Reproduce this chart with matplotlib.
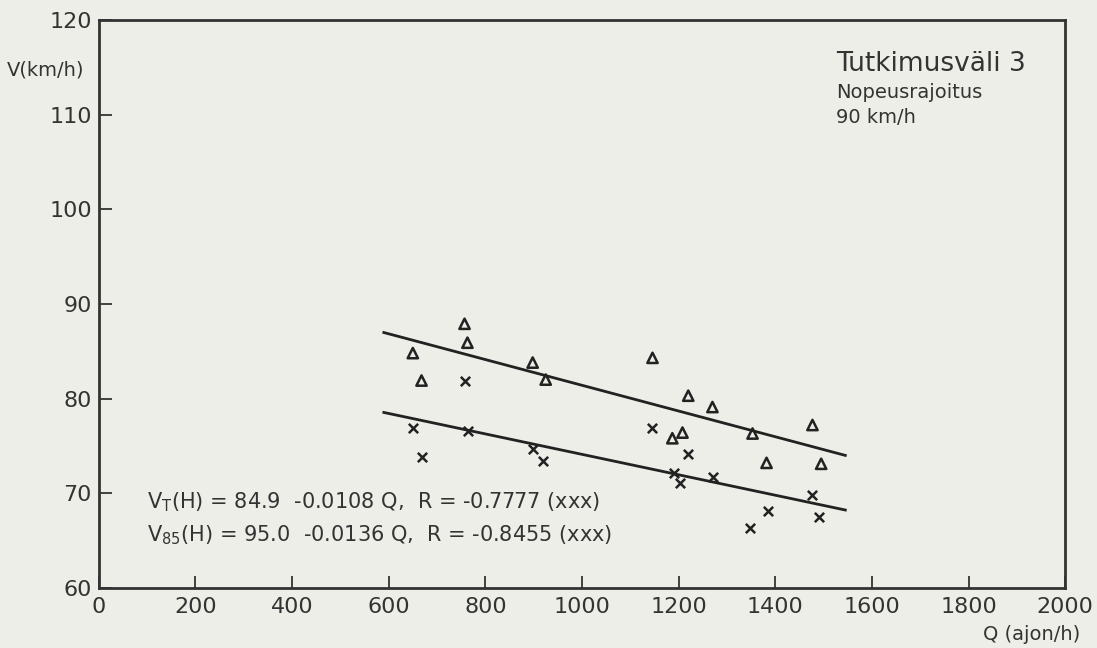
import matplotlib.pyplot as plt

# ---- data ----
# triangles (V85 observations)
tri_q = [650, 668, 757, 763, 898, 925, 1146, 1187, 1208, 1220, 1270, 1353, 1382, 1477, 1495]
tri_v = [84.8, 81.9, 87.9, 85.9, 83.8, 82.0, 84.3, 75.8, 76.4, 80.3, 79.1, 76.3, 73.2, 77.2, 73.1]

# crosses (V_T observations)
x_q = [650, 670, 757, 765, 898, 920, 1144, 1191, 1202, 1220, 1272, 1348, 1384, 1477, 1491]
x_v = [76.9, 73.8, 81.9, 76.6, 74.7, 73.4, 76.9, 72.1, 71.1, 74.1, 71.7, 66.3, 68.1, 69.8, 67.5]

# regression lines: V = a + b*Q
line_q = [590, 1545]
vt_a, vt_b = 84.9, -0.0108
v85_a, v85_b = 95.0, -0.0136

x_ticks = list(range(0, 2001, 200))
y_ticks = list(range(60, 121, 10))

PAPER = "#eeeee8"
INK = "#333333"

fig = plt.figure(figsize=(10.97, 6.48), dpi=100, facecolor=PAPER)
ax = fig.add_axes([0.090, 0.093, 0.881, 0.876], facecolor=PAPER)

ax.plot(line_q, [v85_a + v85_b * q for q in line_q], color="#222222", lw=2.0)
ax.plot(line_q, [vt_a + vt_b * q for q in line_q], color="#222222", lw=2.0)

ax.scatter(tri_q, tri_v, marker="^", s=55, facecolors="none",
           edgecolors="#222222", linewidths=1.8, zorder=3)
ax.scatter(x_q, x_v, marker="x", s=45, color="#222222", linewidths=1.8, zorder=3)

ax.set_xlim(0, 2000)
ax.set_ylim(60, 120)
ax.set_xticks(x_ticks)
ax.set_yticks(y_ticks)
ax.tick_params(direction="in", length=9, width=1.3, labelsize=16,
               colors=INK)
ax.tick_params(axis="y", pad=5)
ax.tick_params(axis="x", pad=7)
for s in ax.spines.values():
    s.set_linewidth(2.0)
    s.set_color(INK)

# hand-lettered axis captions
fig.text(0.006, 0.892, "V(km/h)", fontsize=14, color=INK, va="center")
fig.text(0.985, 0.012, "Q (ajon/h)", fontsize=14, color=INK, ha="right")

ax.text(1525, 115.4, "Tutkimusväli 3", fontsize=19, color=INK, va="center")
ax.text(1525, 112.3, "Nopeusrajoitus", fontsize=14, color=INK, va="center")
ax.text(1525, 109.7, "90 km/h", fontsize=14, color=INK, va="center")

ax.text(100, 69.0, "V$_\\mathrm{T}$(H) = 84.9  -0.0108 Q,  R = -0.7777 (xxx)",
        fontsize=15, color=INK, va="center")
ax.text(100, 65.6, "V$_{85}$(H) = 95.0  -0.0136 Q,  R = -0.8455 (xxx)",
        fontsize=15, color=INK, va="center")

plt.savefig("out.png", dpi=100, facecolor=PAPER)
